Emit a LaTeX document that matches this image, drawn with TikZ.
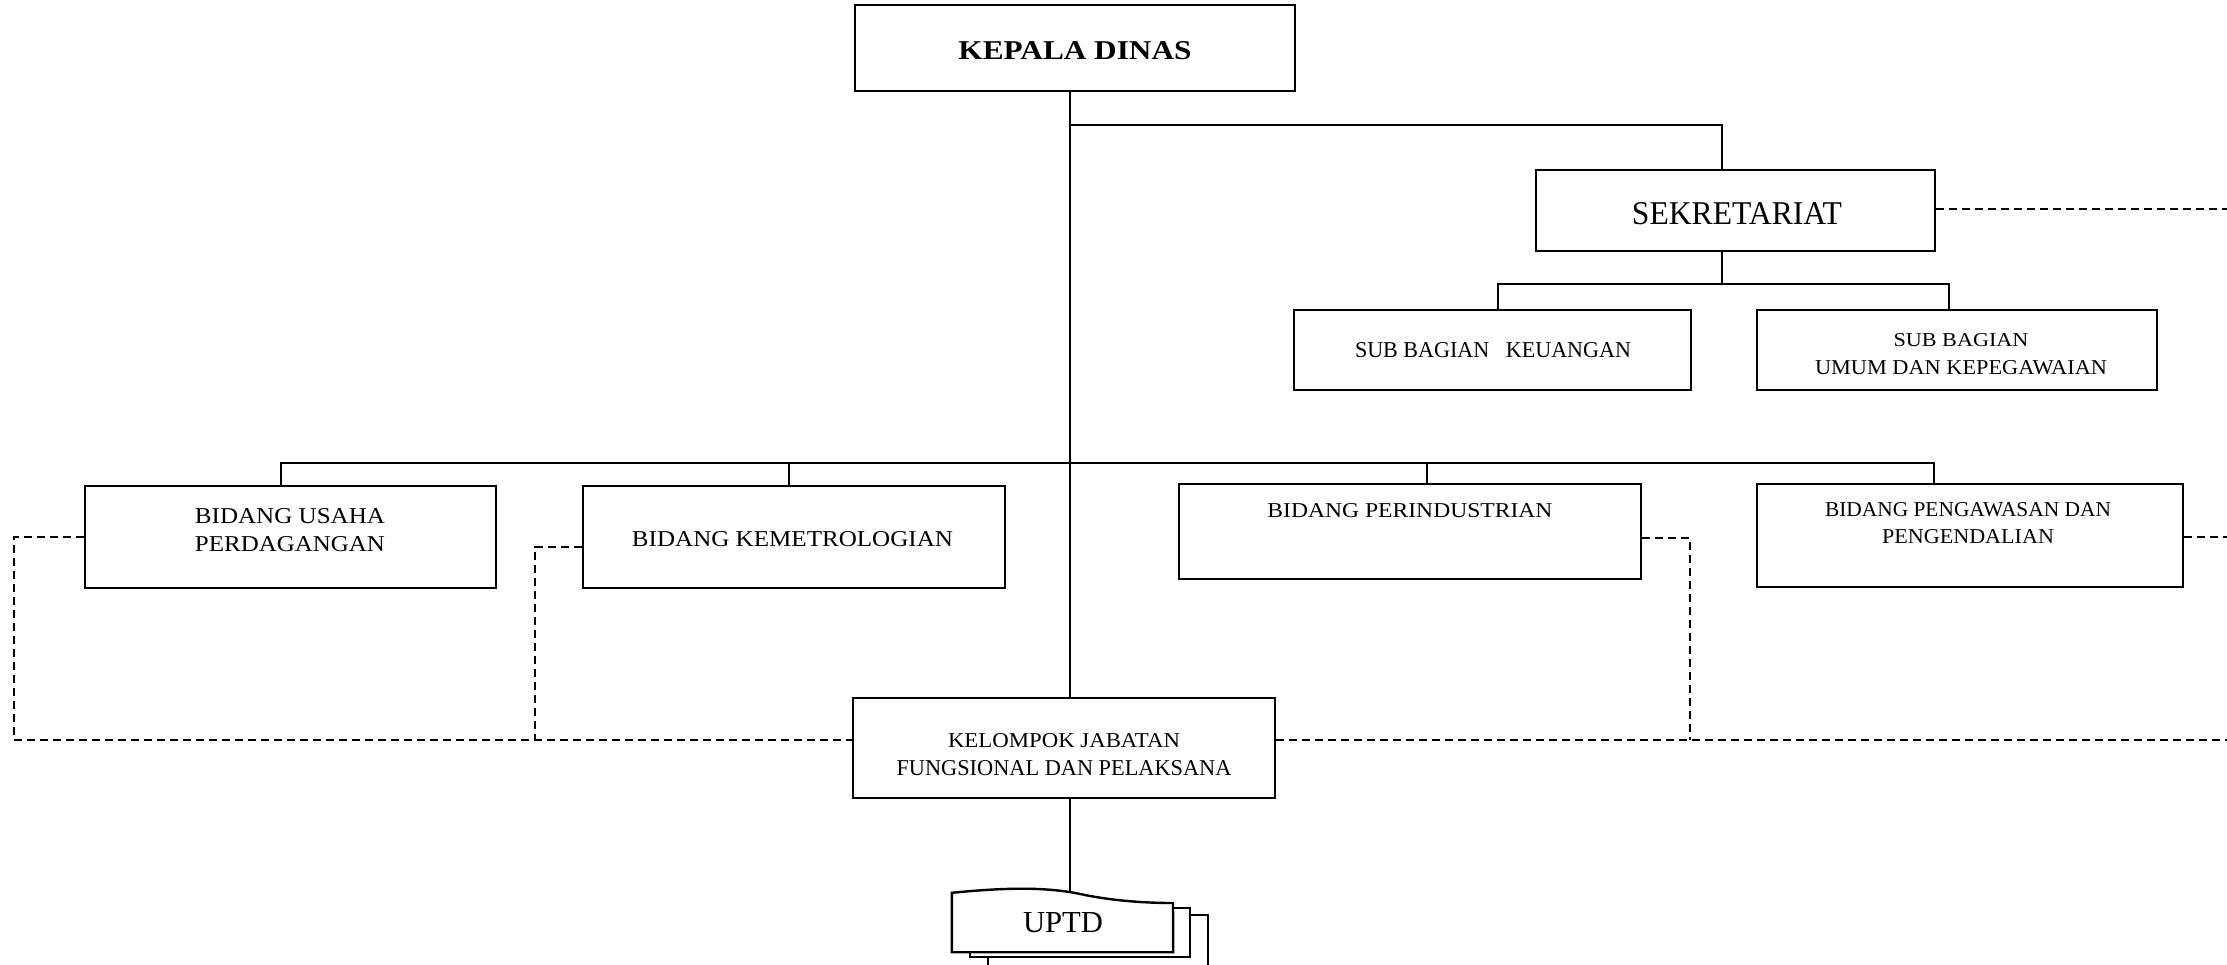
\documentclass[tikz,border=0pt]{standalone}
\usepackage{fontspec}
\setmainfont{Liberation Serif}
\usepackage{graphicx}
\usetikzlibrary{calc}
\newcommand\fitt[3]{\resizebox{#1pt}{#2pt}{#3}}
\tikzset{
  box/.style={draw, rectangle, line width=2.4pt, inner sep=0pt, fill=white},
  txt/.style={inner sep=0pt, outer sep=0pt, text=black},
  conn/.style={line width=2pt},
  dashline/.style={line width=2pt, dash pattern=on 8pt off 5pt},
}
\begin{document}
\begin{tikzpicture}[x=1pt,y=-1pt]
\useasboundingbox (0,0) rectangle (2227,964);
\clip (0,0) rectangle (2227,964);

% boxes
\node[box, minimum width=440pt, minimum height=86pt] (kepala) at (1075,48) {};
\node[box, minimum width=399pt, minimum height=81pt] (sek) at (1735.5,210.5) {};
\node[box, minimum width=397pt, minimum height=80pt] (keu) at (1492.5,350) {};
\node[box, minimum width=400pt, minimum height=80pt] (umum) at (1957,350) {};
\node[box, minimum width=411pt, minimum height=102pt] (usaha) at (290.5,537) {};
\node[box, minimum width=422pt, minimum height=102pt] (metro) at (794,537) {};
\node[box, minimum width=462pt, minimum height=95pt] (indus) at (1410,531.5) {};
\node[box, minimum width=426pt, minimum height=103pt] (awas) at (1970,535.5) {};
\node[box, minimum width=422pt, minimum height=100pt] (kelompok) at (1064,748) {};
\node[inner sep=0pt, minimum width=221pt, minimum height=59pt] (uptd) at (1062.5,922.5) {};

% texts
\node[txt, anchor=base] (t-kepala) at (1075,59) {\fitt{233}{18}{\bfseries KEPALA DINAS}};
\node[txt, anchor=base] (t-sek) at (1737,224) {\fitt{210}{22}{SEKRETARIAT}};
\node[txt, anchor=base] (t-keu) at (1493,357) {\fitt{276}{15}{SUB BAGIAN\ \ \ KEUANGAN}};
\node[txt, anchor=north, align=center, font=\fontsize{10}{28}\selectfont] (t-umum) at (1961,333)
  {\fitt{135}{13}{SUB BAGIAN}\\\fitt{292}{14}{UMUM DAN KEPEGAWAIAN}};
\node[txt, anchor=north, align=center, font=\fontsize{10}{28}\selectfont] (t-usaha) at (290,508)
  {\fitt{190}{15}{BIDANG USAHA}\\\fitt{190}{15}{PERDAGANGAN}};
\node[txt, anchor=base] (t-metro) at (792.5,546) {\fitt{321}{15}{BIDANG KEMETROLOGIAN}};
\node[txt, anchor=base] (t-indus) at (1410,517) {\fitt{285}{14}{BIDANG PERINDUSTRIAN}};
\node[txt, anchor=north, align=center, font=\fontsize{10}{27}\selectfont] (t-awas) at (1968,502)
  {\fitt{286}{14}{BIDANG PENGAWASAN DAN}\\\fitt{172}{14}{PENGENDALIAN}};
\node[txt, anchor=north, align=center, font=\fontsize{10}{28}\selectfont] (t-kel) at (1064,733)
  {\fitt{232}{14}{KELOMPOK JABATAN}\\\fitt{335}{15}{FUNGSIONAL DAN PELAKSANA}};

% coordinates
\coordinate (trunk) at (1070,0);
\coordinate (jS) at (1722,125);
\coordinate (sj) at (1722,284);
\coordinate (kj) at (1498,284);
\coordinate (uj) at (1949,284);
\coordinate (b1) at (281,463);
\coordinate (b2) at (789,463);
\coordinate (b3) at (1427,463);
\coordinate (b4) at (1934,463);
\coordinate (dL) at (14,740);
\coordinate (dM) at (535,740);
\coordinate (dR) at (1690,740);
\coordinate (eR) at (2227,740);

% solid connectors
\draw[conn] (kepala.south -| trunk) -- (kelompok.north -| trunk);
\draw[conn] (jS -| trunk) -- (jS) -- (jS |- sek.north);
\draw[conn] (sek.south -| sj) -- (sj);
\draw[conn] (keu.north -| kj) -- (kj) -- (uj) -- (uj |- umum.north);
\draw[conn] (usaha.north -| b1) -- (b1) -- (b4) -- (b4 |- awas.north);
\draw[conn] (b2) -- (b2 |- metro.north);
\draw[conn] (b3) -- (b3 |- indus.north);
\draw[conn] (kelompok.south -| trunk) -- (uptd.north -| trunk);

% dashed connectors
\draw[dashline] (usaha.west) -| (dL) -- (dL -| kelompok.west);
\draw[dashline] ($(metro.west)+(0,10)$) -| (dM);
\draw[dashline] ($(indus.east)+(0,6.5)$) -| (dR);
\draw[dashline] (kelompok.east |- dR) -- (eR);
\draw[dashline] ($(awas.east)+(0,1.5)$) -- ($(awas.east)+(44,1.5)$);
\draw[dashline] ($(sek.east)+(0,-1.5)$) -- ($(sek.east)+(292,-1.5)$);

% UPTD stacked document
\draw[line width=2.2pt, fill=white] (988,915) rectangle (1208,990);
\draw[line width=2.2pt, fill=white] (970,908) rectangle (1190,957);
\draw[line width=2.4pt, fill=white] (uptd.north west)
  .. controls (1010,887) and (1050,887) .. (1085,895)
  .. controls (1110,900) and (1140,903) .. (1173,903)
  -- (uptd.south east) -- (uptd.south west) -- cycle;
\node[txt, anchor=base] (t-uptd) at (1063,932) {\fitt{80}{20}{UPTD}};
\end{tikzpicture}
\end{document}
